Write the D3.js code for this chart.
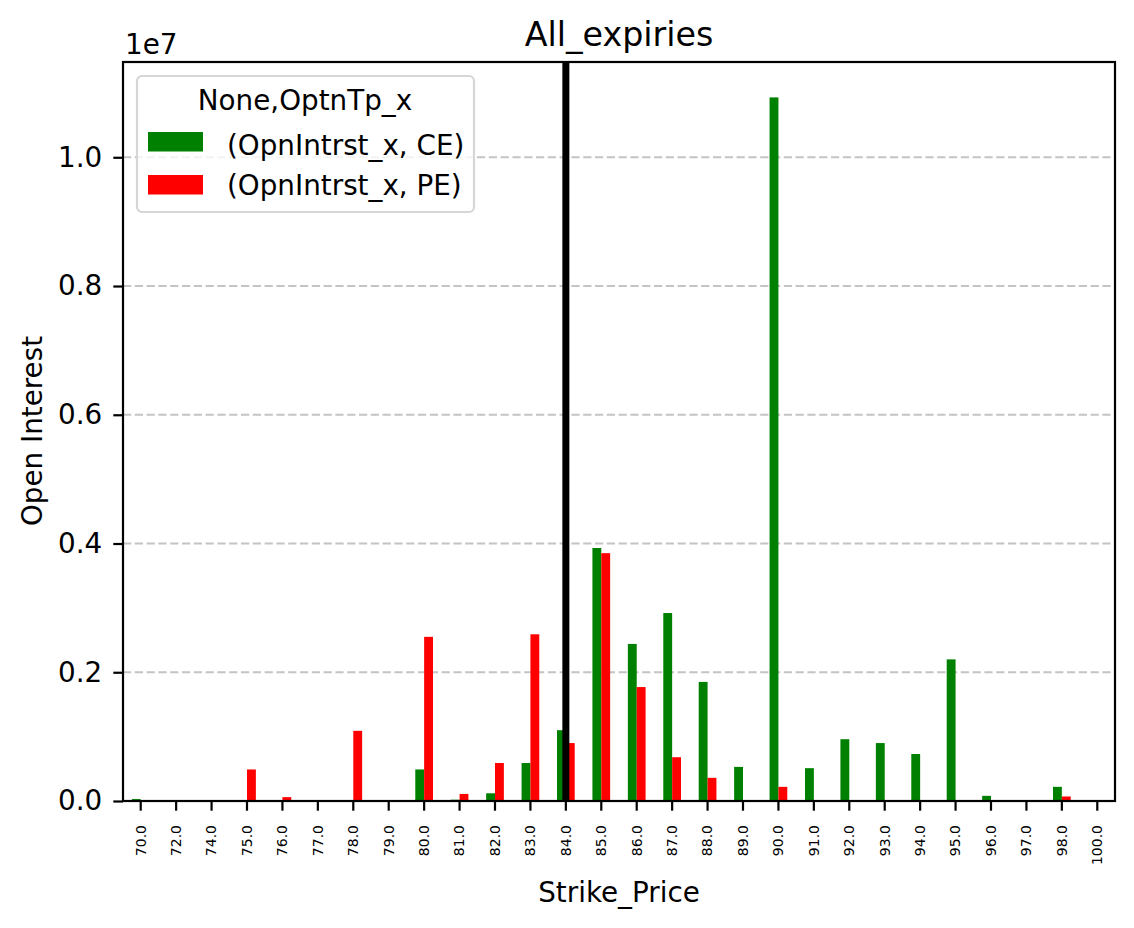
<!DOCTYPE html>
<html>
<head>
<meta charset="utf-8">
<script src="https://cdn.jsdelivr.net/npm/d3@7"></script>
<style>
  body { margin: 0; background: #fff; }
  text { font-family: "DejaVu Sans", sans-serif; fill: #000; }
</style>
</head>
<body>
<script>
"use strict";

const width = 1134;
const height = 928;
const margin = { top: 62, right: 19, bottom: 127, left: 123 };

// strike prices on the x axis
const strikes = ["70.0", "72.0", "74.0", "75.0", "76.0", "77.0", "78.0", "79.0", "80.0",
  "81.0", "82.0", "83.0", "84.0", "85.0", "86.0", "87.0", "88.0", "89.0", "90.0",
  "91.0", "92.0", "93.0", "94.0", "95.0", "96.0", "97.0", "98.0", "100.0"];

// open interest, calls and puts
const ceValues = [30000, 0, 0, 0, 0, 0, 0, 0, 490000,
  20000, 120000, 590000, 1100000, 3930000, 2440000, 2920000, 1850000, 530000, 10930000,
  510000, 960000, 900000, 730000, 2200000, 80000, 0, 220000, 0];
const peValues = [0, 0, 0, 490000, 60000, 0, 1090000, 0, 2550000,
  110000, 590000, 2590000, 900000, 3850000, 1770000, 680000, 360000, 0, 220000,
  0, 0, 0, 0, 0, 0, 0, 70000, 0];

const seriesNames = ["(OpnIntrst_x, CE)", "(OpnIntrst_x, PE)"];
const seriesColors = ["#008000", "#ff0000"];
const yTicks = [0, 2e6, 4e6, 6e6, 8e6, 1e7];
const yMax = 11.48e6;
const markerStrike = "84.0";

const plotW = width - margin.left - margin.right;
const plotH = height - margin.top - margin.bottom;

const svg = d3
  .select("body")
  .append("svg")
  .attr("width", width)
  .attr("height", height);

const g = svg.append("g").attr("transform", `translate(${margin.left},${margin.top})`);

const x0 = d3.scaleBand().domain(strikes).range([0, plotW]).padding(0);
const bw = x0.bandwidth();
const x1 = d3.scaleBand().domain([0, 1]).range([bw * 0.25, bw * 0.75]).padding(0);
const y = d3.scaleLinear().domain([0, yMax]).range([plotH, 0]);

// gridlines
g.selectAll("line.grid")
  .data(yTicks.slice(1))
  .enter()
  .append("line")
  .attr("class", "grid")
  .attr("x1", 0)
  .attr("x2", plotW)
  .attr("y1", d => y(d))
  .attr("y2", d => y(d))
  .attr("stroke", "#c4c4c4")
  .attr("stroke-width", 2.2)
  .attr("stroke-dasharray", "8.2,3.6");

// bars
const rows = strikes.map((s, i) => ({ strike: s, vals: [ceValues[i], peValues[i]] }));
const groups = g.selectAll("g.grp")
  .data(rows)
  .enter()
  .append("g")
  .attr("transform", d => `translate(${x0(d.strike)},0)`);

groups.selectAll("rect")
  .data(d => d.vals.map((v, k) => ({ v, k })))
  .enter()
  .append("rect")
  .attr("x", d => x1(d.k))
  .attr("width", x1.bandwidth())
  .attr("y", d => y(d.v))
  .attr("height", d => plotH - y(d.v))
  .attr("fill", d => seriesColors[d.k]);

// vertical marker at current strike
const mx = x0(markerStrike) + bw / 2;
g.append("line")
  .attr("x1", mx).attr("x2", mx)
  .attr("y1", 0).attr("y2", plotH)
  .attr("stroke", "#000")
  .attr("stroke-width", 7);

// axes
const xAxis = g.append("g")
  .attr("transform", `translate(0,${plotH})`)
  .call(d3.axisBottom(x0).tickSizeInner(9.7).tickSizeOuter(0).tickPadding(0));
xAxis.select(".domain").remove();
xAxis.selectAll(".tick line").attr("stroke-width", 2.2);
xAxis.selectAll(".tick text")
  .attr("font-size", 14)
  .attr("text-anchor", "end")
  .attr("transform", "translate(0,24) rotate(-90)")
  .attr("x", 0)
  .attr("y", 0)
  .attr("dy", "0.35em")
  .attr("font-family", "DejaVu Sans");

const yAxis = g.append("g")
  .call(d3.axisLeft(y).tickValues(yTicks).tickFormat(d => (d / 1e7).toFixed(1))
    .tickSizeInner(9.7).tickSizeOuter(0).tickPadding(11));
yAxis.select(".domain").remove();
yAxis.selectAll(".tick line").attr("stroke-width", 2.2);
yAxis.selectAll(".tick text").attr("font-size", 27.8).attr("font-family", "DejaVu Sans");

// frame
g.append("rect")
  .attr("width", plotW)
  .attr("height", plotH)
  .attr("fill", "none")
  .attr("stroke", "#000")
  .attr("stroke-width", 2.2);

// texts
svg.append("text")
  .attr("x", margin.left + plotW / 2)
  .attr("y", 46)
  .attr("text-anchor", "middle")
  .attr("font-size", 33.3)
  .text("All_expiries");

svg.append("text")
  .attr("x", 125)
  .attr("y", 54)
  .attr("font-size", 27.8)
  .text("1e7");

svg.append("text")
  .attr("x", margin.left + plotW / 2)
  .attr("y", 902)
  .attr("text-anchor", "middle")
  .attr("font-size", 27.8)
  .text("Strike_Price");

svg.append("text")
  .attr("transform", "translate(42,431) rotate(-90)")
  .attr("text-anchor", "middle")
  .attr("font-size", 27.8)
  .text("Open Interest");

// legend
const legend = svg.append("g").attr("transform", "translate(137,76)");
legend.append("rect")
  .attr("width", 337)
  .attr("height", 136)
  .attr("rx", 5)
  .attr("fill", "#fff")
  .attr("fill-opacity", 0.8)
  .attr("stroke", "#d6d6d6")
  .attr("stroke-width", 2.2);
legend.append("text")
  .attr("x", 168)
  .attr("y", 34)
  .attr("text-anchor", "middle")
  .attr("font-size", 27.8)
  .text("None,OptnTp_x");

seriesNames.forEach((name, k) => {
  legend.append("rect")
    .attr("x", 11)
    .attr("y", 56 + k * 43)
    .attr("width", 55)
    .attr("height", 19.5)
    .attr("fill", seriesColors[k]);
  legend.append("text")
    .attr("x", 90)
    .attr("y", 79 + k * 40)
    .attr("font-size", 27.8)
    .text(name);
});
</script>
</body>
</html>
